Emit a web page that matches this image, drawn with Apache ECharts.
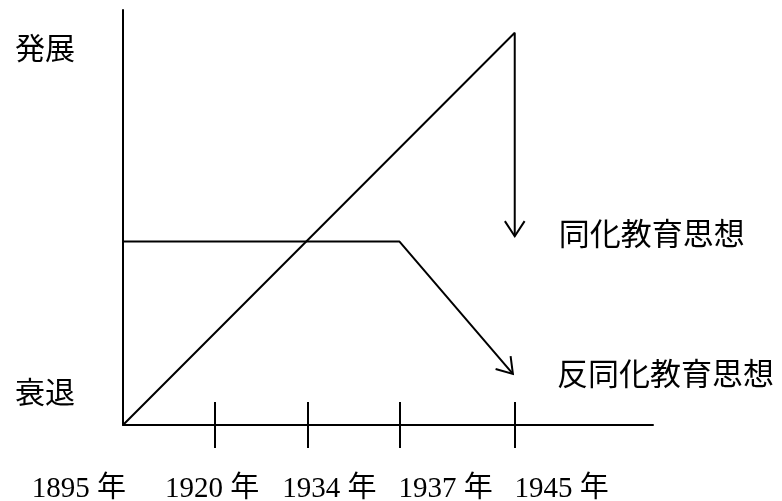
<!DOCTYPE html>
<html>
<head>
<meta charset="utf-8">
<script src="https://cdn.jsdelivr.net/npm/echarts@6/dist/echarts.min.js"></script>
<style>
html, body { margin: 0; background: #fff; }
#main { width: 782px; height: 501px; }
</style>
</head>
<body>
<div id="main"></div>
<script>
// 年の位置（模式図なので等間隔ではない）
var tickPos = [0, 1, 2, 3, 4.25];
var yearLabels = ['1895 年', '1920 年', '1934 年', '1937 年', '1945 年'];
// 縦軸の目盛り
var levelPos = [8, 91];
var levelLabels = ['衰退', '発展'];
// 二つの思想の推移
var assimilation = [[0, 0], [4.25, 94.5], [4.25, 45.5]];
var antiAssimilation = [[0, 44.2], [3, 44.2], [4.23, 12.3]];

var font = "'Liberation Serif', 'Noto Sans CJK JP', serif";
var cjk = "'Noto Sans CJK JP', sans-serif";

// 年ラベルの横ずれ（元図は目盛りの真下にない）
var labelShift = [-44, -3, 22, 46, 47];
var rich = {};
labelShift.forEach(function (s, i) {
    rich['s' + i] = {
        fontSize: 29,
        fontFamily: font,
        color: '#000',
        padding: s > 0 ? [0, 0, 0, 2 * s] : [0, -2 * s, 0, 0]
    };
});

// 矢印の先: 各系列の最後の二点
function lastSeg(d) {
    var a = d[d.length - 2], b = d[d.length - 1];
    return [a[0], a[1], b[0], b[1]];
}
var arrows = [lastSeg(assimilation), lastSeg(antiAssimilation)];

var myChart = echarts.init(document.getElementById('main'));
var options = {
    animation: false,
    grid: { left: 123, right: 129, top: 10, bottom: 76, outerBoundsMode: 'none' },
    xAxis: [
        {
            type: 'value',
            min: 0,
            max: 5.75,
            position: 'bottom',
            splitLine: { show: false },
            axisLine: { lineStyle: { color: '#000', width: 2 } },
            axisTick: {
                customValues: tickPos.slice(1),
                length: 23,
                lineStyle: { color: '#000', width: 2 }
            },
            axisLabel: {
                customValues: tickPos,
                margin: 50,
                formatter: function (v) {
                    var i = tickPos.indexOf(v);
                    return '{s' + i + '|' + yearLabels[i] + '}';
                },
                rich: rich
            }
        },
        {
            // 上向きの目盛り（軸を貫く線にするため）
            type: 'value',
            min: 0,
            max: 5.75,
            position: 'bottom',
            splitLine: { show: false },
            axisLine: { show: false },
            axisTick: {
                inside: true,
                customValues: tickPos.slice(1),
                length: 23,
                lineStyle: { color: '#000', width: 2 }
            },
            axisLabel: { show: false }
        }
    ],
    yAxis: {
        type: 'value',
        min: 0,
        max: 100,
        splitLine: { show: false },
        axisLine: { show: true, lineStyle: { color: '#000', width: 2 } },
        axisTick: { show: false },
        axisLabel: {
            customValues: levelPos,
            margin: 48,
            fontSize: 30,
            fontFamily: cjk,
            color: '#000',
            formatter: function (v) {
                return levelLabels[levelPos.indexOf(v)];
            }
        }
    },
    series: [
        {
            name: '同化教育思想',
            type: 'line',
            data: assimilation,
            symbol: 'none',
            lineStyle: { color: '#000', width: 2 },
            endLabel: {
                show: true,
                formatter: '{a}',
                distance: 44,
                offset: [0, -3],
                fontSize: 31,
                fontFamily: cjk,
                color: '#000'
            }
        },
        {
            name: '反同化教育思想',
            type: 'line',
            data: antiAssimilation,
            symbol: 'none',
            lineStyle: { color: '#000', width: 2 },
            endLabel: {
                show: true,
                formatter: '{a}',
                distance: 44,
                offset: [0, -1],
                fontSize: 31,
                fontFamily: cjk,
                color: '#000'
            }
        },
        {
            type: 'custom',
            data: arrows,
            encode: { x: [0, 2], y: [1, 3] },
            renderItem: function (params, api) {
                var a = api.coord([api.value(0), api.value(1)]);
                var b = api.coord([api.value(2), api.value(3)]);
                var ang = Math.atan2(b[1] - a[1], b[0] - a[0]);
                var L = 18, w = 0.58;
                var p1 = [b[0] - L * Math.cos(ang - w), b[1] - L * Math.sin(ang - w)];
                var p2 = [b[0] - L * Math.cos(ang + w), b[1] - L * Math.sin(ang + w)];
                return {
                    type: 'polyline',
                    shape: { points: [p1, b, p2] },
                    style: { stroke: '#000', lineWidth: 2, fill: null }
                };
            }
        }
    ]
};
myChart.setOption(options);
</script>
</body>
</html>
